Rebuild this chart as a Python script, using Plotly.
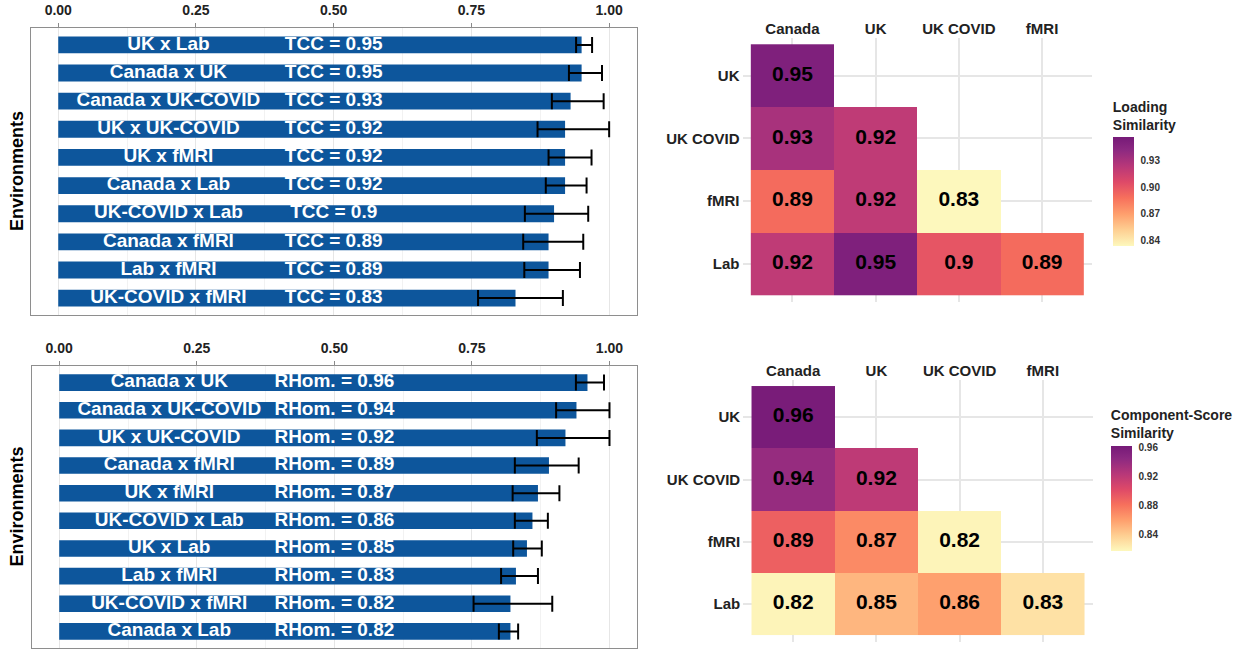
import plotly.graph_objects as go

# ---- data -----------------------------------------------------------------
tcc_pairs = ["UK x Lab", "Canada x UK", "Canada x UK-COVID", "UK x UK-COVID",
             "UK x fMRI", "Canada x Lab", "UK-COVID x Lab", "Canada x fMRI",
             "Lab x fMRI", "UK-COVID x fMRI"]
tcc_vals = [0.95, 0.95, 0.93, 0.92, 0.92, 0.92, 0.9, 0.89, 0.89, 0.83]
tcc_lo = [0.940, 0.927, 0.896, 0.870, 0.890, 0.885, 0.847, 0.844, 0.846, 0.762]
tcc_hi = [0.969, 0.987, 0.990, 1.000, 0.968, 0.959, 0.962, 0.953, 0.947, 0.916]

rhom_pairs = ["Canada x UK", "Canada x UK-COVID", "UK x UK-COVID", "Canada x fMRI",
              "UK x fMRI", "UK-COVID x Lab", "UK x Lab", "Lab x fMRI",
              "UK-COVID x fMRI", "Canada x Lab"]
rhom_vals = [0.96, 0.94, 0.92, 0.89, 0.87, 0.86, 0.85, 0.83, 0.82, 0.82]
rhom_lo = [0.939, 0.903, 0.868, 0.828, 0.824, 0.828, 0.825, 0.803, 0.753, 0.799]
rhom_hi = [0.990, 1.000, 1.000, 0.944, 0.909, 0.888, 0.877, 0.870, 0.896, 0.834]

env_cols = ["Canada", "UK", "UK COVID", "fMRI"]
env_rows = ["UK", "UK COVID", "fMRI", "Lab"]
loading_sim = [[0.95, None, None, None],
               [0.93, 0.92, None, None],
               [0.89, 0.92, 0.83, None],
               [0.92, 0.95, 0.9, 0.89]]
score_sim = [[0.96, None, None, None],
             [0.94, 0.92, None, None],
             [0.89, 0.87, 0.82, None],
             [0.82, 0.85, 0.86, 0.83]]

bar_ticks = [0, 0.25, 0.5, 0.75, 1.0]
bar_ticktext = ["0.00", "0.25", "0.50", "0.75", "1.00"]

# ---- style ----------------------------------------------------------------
W, H = 1253, 651
FONT = "Liberation Sans, Arial, sans-serif"
BAR_BLUE = "#0d569c"
GRID = "#e6e6e6"
# reversed, trimmed magma ramp (light = low similarity)
MAGMA = [[0.0, "#fdf8bd"], [0.147, "#fecf92"], [0.294, "#fe9f6d"],
         [0.441, "#f7705c"], [0.588, "#de4968"], [0.735, "#b73779"],
         [0.882, "#8c2981"], [1.0, "#761a78"]]
CBAR_TITLE_PX = 40  # room taken by the two-line colorbar title


def px_x(p):
    return p / W


def px_y(p):
    return 1 - p / H


fig = go.Figure()


def add_bar_panel(n, pairs, vals, lo, hi, metric, box):
    xa, ya = ("x", "y") if n == 1 else (f"x{n}", f"y{n}")
    fig.add_trace(go.Bar(
        x=vals, y=pairs, orientation="h", width=0.6,
        marker=dict(color=BAR_BLUE, line=dict(width=0)),
        error_x=dict(type="data", symmetric=False,
                     array=[h - v for h, v in zip(hi, vals)],
                     arrayminus=[v - l for v, l in zip(vals, lo)],
                     color="black", thickness=2, width=8),
        xaxis=xa, yaxis=ya, hoverinfo="skip", showlegend=False))
    fig.add_trace(go.Scatter(
        x=[0.2] * len(pairs), y=pairs, mode="text",
        text=[f"<b>{p}</b>" for p in pairs],
        textfont=dict(family=FONT, size=19, color="white"),
        xaxis=xa, yaxis=ya, hoverinfo="skip", showlegend=False, cliponaxis=False))
    fig.add_trace(go.Scatter(
        x=[0.5] * len(pairs), y=pairs, mode="text",
        text=[f"<b>{metric} = {v}</b>" for v in vals],
        textfont=dict(family=FONT, size=19, color="white"),
        xaxis=xa, yaxis=ya, hoverinfo="skip", showlegend=False, cliponaxis=False))
    x0, x1, y0, y1 = box
    key = "" if n == 1 else str(n)
    fig.update_layout(**{
        f"xaxis{key}": dict(
            domain=[px_x(x0), px_x(x1)], anchor=ya, side="top",
            range=[-0.05, 1.05], tickvals=bar_ticks, ticktext=bar_ticktext,
            tickfont=dict(family=FONT, size=14, color="#222", weight="bold"),
            ticks="outside", ticklen=4, tickcolor="#8a8a8a", ticklabelstandoff=2,
            showgrid=True, gridcolor=GRID, gridwidth=1,
            minor=dict(tickvals=[0.125, 0.375, 0.625, 0.875], showgrid=True,
                       gridcolor="#f2f2f2", gridwidth=1, ticks=""),
            showline=True, mirror=True, linecolor="#8e8e8e", linewidth=1.2,
            zeroline=False, fixedrange=True),
        f"yaxis{key}": dict(
            domain=[px_y(y1), px_y(y0)], anchor=xa, type="category",
            range=[len(pairs) - 0.4, -0.6], showticklabels=False, ticks="",
            showgrid=False, showline=True, mirror=True, linecolor="#8e8e8e",
            linewidth=1.2, zeroline=False, fixedrange=True),
    })
    fig.add_annotation(
        xref="paper", yref="paper", x=px_x(16.5), y=px_y((y0 + y1) / 2),
        xanchor="center", yanchor="middle",
        text="<b>Environments</b>", textangle=-90, showarrow=False,
        font=dict(family=FONT, size=18, color="black"))


def add_heat_panel(n, z, zmin, zmax, ticks, title, box, cbar):
    xa, ya = f"x{n}", f"y{n}"
    cb_left, cb_top, cb_bottom = cbar
    fig.add_trace(go.Heatmap(
        z=z, x=env_cols, y=env_rows, zmin=zmin, zmax=zmax, colorscale=MAGMA,
        xgap=0, ygap=0, hoverinfo="skip", xaxis=xa, yaxis=ya,
        colorbar=dict(
            x=px_x(cb_left), xanchor="left", y=px_y(cb_bottom), yanchor="bottom",
            len=cb_bottom - cb_top + CBAR_TITLE_PX, lenmode="pixels",
            thickness=21, thicknessmode="pixels",
            xpad=0, ypad=0, outlinewidth=0,
            tickvals=ticks, ticktext=[f"{t:.2f}" for t in ticks],
            ticks="outside", ticklen=5, tickcolor="white",
            tickfont=dict(family=FONT, size=10, color="#333", weight="bold"),
            title=dict(text=title, side="top",
                       font=dict(family=FONT, size=14, color="#222", weight="bold")))))
    tx, ty, tt = [], [], []
    for r, row in zip(env_rows, z):
        for c, v in zip(env_cols, row):
            if v is not None:
                tx.append(c)
                ty.append(r)
                tt.append(f"<b>{v}</b>")
    fig.add_trace(go.Scatter(
        x=tx, y=ty, text=tt, mode="text",
        textfont=dict(family=FONT, size=21, color="black"),
        xaxis=xa, yaxis=ya, hoverinfo="skip", showlegend=False))
    x0, x1, y0, y1 = box
    fig.update_layout(**{
        f"xaxis{n}": dict(
            domain=[px_x(x0), px_x(x1)], anchor=ya, side="top", type="category",
            range=[-0.6, 3.6], showgrid=True, gridcolor=GRID, gridwidth=1.5,
            zeroline=False, showline=False, ticks="",
            tickfont=dict(family=FONT, size=15, color="#222", weight="bold"),
            fixedrange=True),
        f"yaxis{n}": dict(
            domain=[px_y(y1), px_y(y0)], anchor=xa, type="category",
            range=[3.6, -0.6], showgrid=True, gridcolor=GRID, gridwidth=1.5,
            zeroline=False, showline=False, ticks="", ticklabelstandoff=2,
            tickfont=dict(family=FONT, size=15, color="#222", weight="bold"),
            fixedrange=True),
    })


add_bar_panel(1, tcc_pairs, tcc_vals, tcc_lo, tcc_hi, "TCC", (30.7, 636.7, 28, 315))
add_bar_panel(2, rhom_pairs, rhom_vals, rhom_lo, rhom_hi, "RHom.", (31.7, 637, 366, 648))
add_heat_panel(3, loading_sim, 0.834, 0.956, [0.84, 0.87, 0.90, 0.93],
               "Loading<br>Similarity", (742.5, 1092, 38, 301.7),
               (1112.8, 138.3, 246))
add_heat_panel(4, score_sim, 0.818, 0.962, [0.84, 0.88, 0.92, 0.96],
               "Component-Score<br>Similarity", (743.2, 1092.8, 379.8, 641.5),
               (1110.8, 446.7, 550.7))

fig.update_layout(
    width=W, height=H, margin=dict(l=0, r=0, t=0, b=0),
    paper_bgcolor="white", plot_bgcolor="white",
    font=dict(family=FONT), showlegend=False)

fig.write_html("out.html")
